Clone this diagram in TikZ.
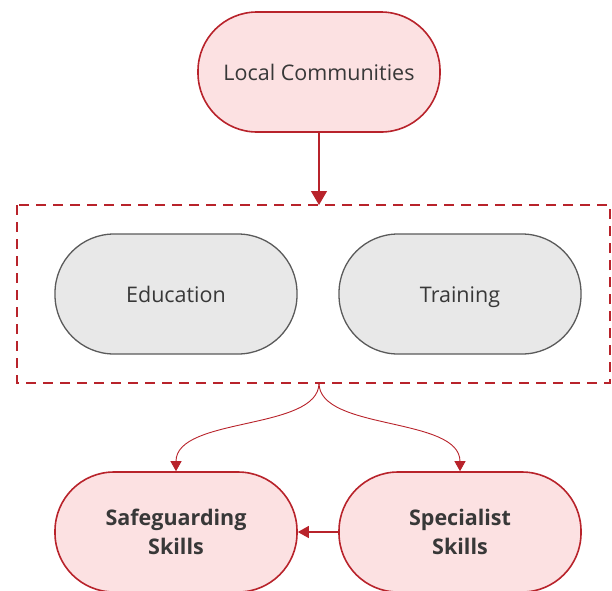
\documentclass[tikz,border=0pt]{standalone}
\usepackage{fontspec}
\setmainfont{Open Sans}
\usetikzlibrary{arrows.meta}
\definecolor{darkred}{HTML}{B8232B}
\definecolor{pinkfill}{HTML}{FCE1E2}
\definecolor{greyfill}{HTML}{E8E8E8}
\definecolor{greyline}{HTML}{5A5A5A}
\definecolor{textgrey}{HTML}{383838}
\tikzset{
  pill/.style={draw=darkred, fill=pinkfill, line width=1.6pt, rounded corners=59pt,
    minimum width=242pt, minimum height=120pt, text=textgrey, align=center,
    font=\fontsize{21.5}{29}\selectfont},
  greypill/.style={pill, draw=greyline, fill=greyfill, line width=1.3pt,
    text height=18pt, text depth=2pt},
  boldpill/.style={pill, font=\fontsize{21.5}{29}\selectfont\bfseries},
  link/.style={draw=darkred, line width=1.2pt}
}
\begin{document}
\begin{tikzpicture}[x=1pt, y=-1pt]
        \useasboundingbox (0,0) rectangle (612,590);
        \clip (0,0) rectangle (612,590);
        \node[pill] (local) at (319,72) {Local Communities};
        \draw[darkred, line width=1.6pt, dash pattern=on 10pt off 7pt]
          (17,205) rectangle (610,383);
        \coordinate (grouptop) at (319,205);
        \coordinate (groupbot) at (319,383);
        \node[greypill] (edu) at (176,294) {Education};
        \node[greypill] (train) at (460,294) {Training};
        \node[boldpill] (safe) at (176,532) {Safeguarding\\Skills};
        \node[boldpill] (spec) at (460,532) {Specialist\\Skills};
        \draw[link, -{Triangle[length=14pt, width=16pt]}] (local) -- (grouptop);
        \foreach \t in {safe, spec} {
          \draw[link, line width=0.9pt, -{Triangle[length=10pt, width=11pt]}]
            (groupbot) .. controls ([yshift=-48pt]groupbot) and ([yshift=55pt]\t.north) .. (\t.north);
        }
        \draw[link, -{Triangle[length=11pt, width=12pt]}] (spec) -- (safe);
      \end{tikzpicture}
\end{document}
